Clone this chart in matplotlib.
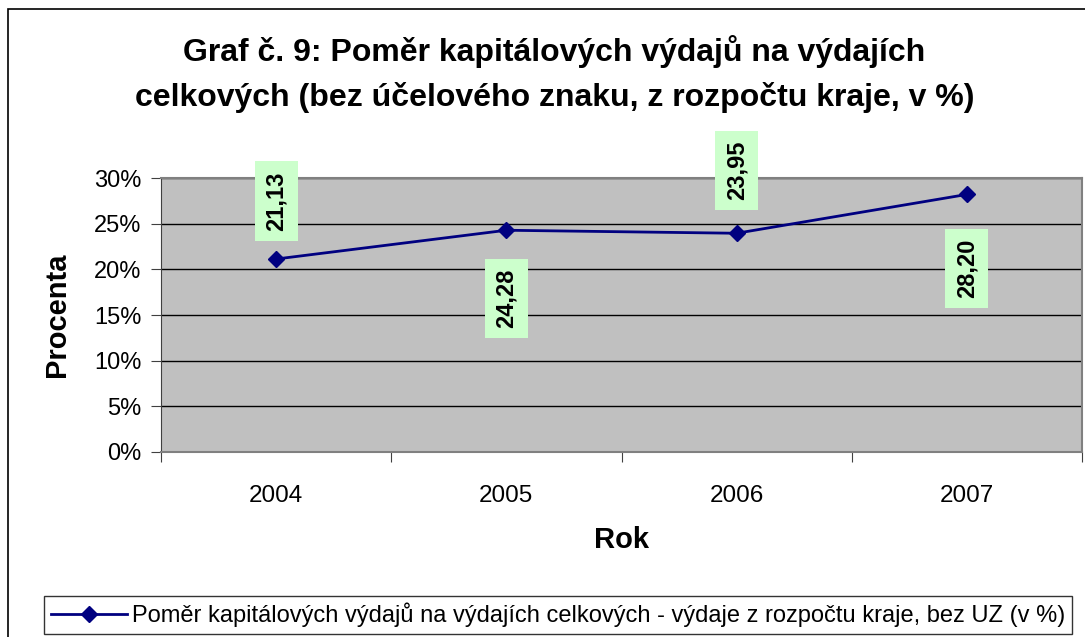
import matplotlib
matplotlib.use("Agg")
import matplotlib.pyplot as plt
from matplotlib.patches import Rectangle
from matplotlib.ticker import FixedLocator, PercentFormatter
import numpy as np

plt.rcParams['font.family'] = ['Liberation Sans', 'DejaVu Sans']

years = ["2004", "2005", "2006", "2007"]
values = [21.13, 24.28, 23.95, 28.20]
labels = ["21,13", "24,28", "23,95", "28,20"]
series_name = "Poměr kapitálových výdajů na výdajích celkových - výdaje z rozpočtu kraje, bez UZ (v %)"
title = "Graf č. 9: Poměr kapitálových výdajů na výdajích\ncelkových (bez účelového znaku, z rozpočtu kraje, v %)"

fig = plt.figure(figsize=(10.85, 6.37), dpi=100)
ax = fig.add_axes([161 / 1085, 1 - 452 / 637, 921 / 1085, 274 / 637])

# outer chart border
fig.patches.append(Rectangle((8 / 1085, -0.05), 1.1, 1 - 9 / 637 + 0.05,
                             transform=fig.transFigure, fill=False,
                             edgecolor='black', linewidth=1.2, zorder=0))

ax.set_facecolor('#C0C0C0')
xpos = np.arange(len(years))
ax.plot(xpos, values, color='#000080', linewidth=2, marker='D', markersize=8,
        markeredgecolor='#000080', markerfacecolor='#000080', zorder=3,
        label=series_name)

ax.set_xlim(-0.5, len(years) - 0.5)
ax.set_ylim(0, 30)
ax.yaxis.set_major_locator(FixedLocator([0, 5, 10, 15, 20, 25, 30]))
ax.yaxis.set_major_formatter(PercentFormatter(decimals=0))
ax.grid(axis='y', color='black', linewidth=1)
ax.set_axisbelow(True)

# category ticks between the categories, labels at centers
ax.set_xticks(np.arange(-0.5, len(years)), minor=False)
ax.set_xticklabels([])
ax.set_xticks(xpos, minor=True)
ax.set_xticklabels(years, minor=True, fontsize=17.5)
ax.tick_params(axis='x', which='minor', length=0, pad=24)
ax.tick_params(axis='x', which='major', length=7, direction='out', color='#404040')
ax.tick_params(axis='y', length=7, direction='out', labelsize=17, pad=7, color='#404040')

for s in ['top', 'right']:
    ax.spines[s].set_color('#808080')
    ax.spines[s].set_linewidth(1.5)
ax.spines['left'].set_color('#404040')
ax.spines['bottom'].set_color('#808080')
ax.spines['bottom'].set_linewidth(1.5)

# data labels in green boxes, alternating above/below
offsets = [-58, 68, -63, 74]
for x, v, lab, off in zip(xpos, values, labels, offsets):
    ax.annotate(lab, (x, v), xytext=(0, -off), textcoords='offset pixels',
                rotation=90, ha='center', va='center', fontsize=17,
                fontweight='bold', zorder=4,
                bbox=dict(boxstyle='square,pad=0.42', facecolor='#CCFFCC', edgecolor='none'))

fig.text(0.511, 1 - 74 / 637, title, ha='center', va='center', fontsize=23,
         fontweight='bold', linespacing=1.6)
fig.text(57 / 1085, 1 - 315 / 637, "Procenta", rotation=90, ha='center', va='center',
         fontsize=21, fontweight='bold')
fig.text(622 / 1085, 1 - 540 / 637, "Rok", ha='center', va='center',
         fontsize=21, fontweight='bold')

leg = fig.legend(loc='center', bbox_to_anchor=(558 / 1085, 1 - 615 / 637),
                 fontsize=17, frameon=True, fancybox=False, handlelength=3.2,
                 handletextpad=0.2, borderpad=0.3, borderaxespad=0)
leg.get_frame().set_edgecolor('black')
leg.get_frame().set_linewidth(1)

fig.savefig("out.png", dpi=100)
